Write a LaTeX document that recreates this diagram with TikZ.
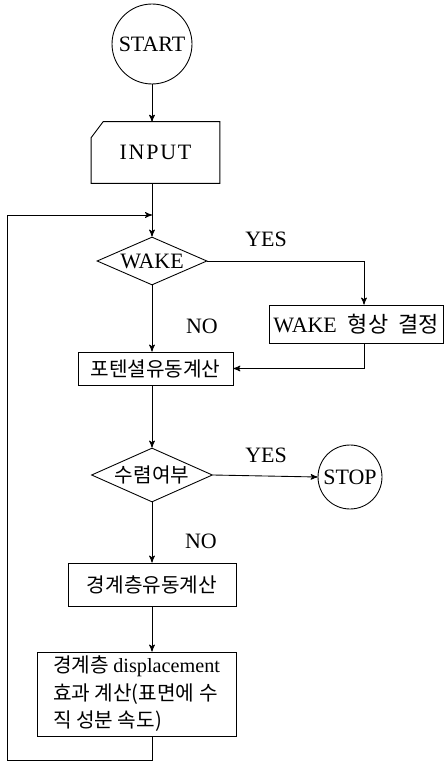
\documentclass[tikz,border=0pt]{standalone}
\usepackage{fontspec}
\setmainfont{Liberation Serif}
\newfontfamily\kr{Noto Sans CJK KR}
\usetikzlibrary{arrows,shapes,positioning}

\begin{document}
\begin{tikzpicture}[x=0.02cm,y=-0.02cm,>=stealth',font=\fontsize{12.5}{15}\selectfont]
  \tikzstyle{terminal}=[circle,draw=black,line width=0.5pt,inner sep=0pt]
  \tikzstyle{process}=[rectangle,draw=black,line width=0.5pt,inner sep=0pt]
  \tikzstyle{decision}=[diamond,draw=black,line width=0.5pt,inner sep=0pt,minimum width=2.2cm,minimum height=0.96cm]
  \tikzstyle{hangul}=[font=\kr\fontsize{11.5}{15.6}\selectfont]
  \tikzstyle{flow}=[->,line width=0.5pt]
  \tikzstyle{every label}=[black]

  \useasboundingbox (0,0) rectangle (445,763);

  \begin{scope}
    % main column
    \node [terminal,minimum size=1.6cm] (start) at (152,44) {START};
    \node [rectangle,minimum width=2.56cm,minimum height=1.22cm] (input) at (155.5,152.5) {I\kern1ptN\kern1ptP\kern1ptU\kern1ptT};
    \node [decision,label={center:WAKE}] (wake) at (152,261) {};
    \node [process,minimum width=3.48cm,minimum height=0.76cm] (shape) at (356,324) {WAKE\ \ {\kr 형상\ \ 결정}};
    \node [process,hangul,minimum width=3.1cm,minimum height=0.66cm] (potential) at (155.5,368.5) {포텐셜유동계산};
    \node [decision,minimum width=2.42cm,minimum height=1.08cm,label={[hangul]center:수렴여부}] (conv) at (152,475) {};
    \node [terminal,minimum size=1.28cm] (stop) at (350,477) {STOP};
    \node [process,hangul,minimum width=3.36cm,minimum height=0.86cm] (boundary) at (152,584.5) {경계층유동계산};
    \node [process,hangul,align=left,minimum width=3.98cm,minimum height=1.68cm] (displ) at (136.5,694)
      {경계층 {\rmfamily displacement}\\효과 계산(표면에 수\\직 성분 속도)};
    % branch labels
    \node (wakeyes) at (266,239) {YES};
    \node (wakeno) at (202,326) {NO};
    \node (convyes) at (266,455) {YES};
    \node (convno) at (201,541) {NO};
    \coordinate (yesturn) at (364,261);
    \coordinate (loopbottom) at (7,760);
    \coordinate (looptop) at (7,215);
  \end{scope}

  % card outline of input
  \draw [line width=0.5pt] (input.south west) -- (input.south east) -- (input.north east)
    -- ([xshift=0.24cm]input.north west) -- ([yshift=-0.32cm]input.north west) -- cycle;

  \begin{scope}
    \draw [flow] (start) -- (start |- input.north);
    \draw [flow] (start |- input.south) -- (wake.north);
    \draw [flow] (wake.east) -- (yesturn) -- (yesturn |- shape.north);
    \draw [flow] (yesturn |- shape.south) |- (potential.east);
    \draw [flow] (wake.south) -- (wake |- potential.north);
    \draw [flow] (wake |- potential.south) -- (conv.north);
    \draw [flow] (conv.east) -- (stop.west);
    \draw [flow] (conv.south) -- (boundary.north);
    \draw [flow] (boundary.south) -- (boundary.south |- displ.north);
    \draw [flow] (boundary.south |- displ.south) -- (boundary.south |- loopbottom)
      -- (loopbottom) -- (looptop) -- (looptop -| wake);
  \end{scope}
\end{tikzpicture}
\end{document}
